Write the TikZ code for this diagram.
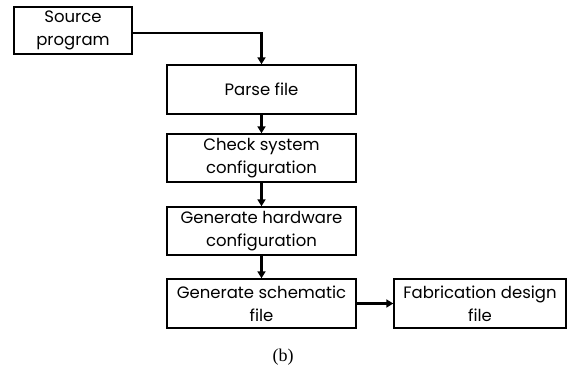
\documentclass[tikz,border=0pt]{standalone}
\usepackage{fontspec}
\setmainfont{Liberation Serif}
\newfontfamily\boxfont{Poppins}
\usetikzlibrary{arrows.meta}
\tikzset{
  flowbox/.style={draw=black, line width=1.4pt, align=center, inner sep=0pt,
    font=\boxfont\fontsize{16.5}{23}\selectfont},
  flowarrow/.style={line width=2.6pt, -{Triangle[length=7pt,width=8pt]}}
}
\begin{document}
\begin{tikzpicture}[x=1pt, y=-1pt]
  \useasboundingbox (0,0) rectangle (568,378);

  % boxes of the flow
  \node[flowbox, minimum width=118pt, minimum height=47pt] (source) at (73,30.5) {Source\\program};
  \node[flowbox, minimum width=189pt, minimum height=49pt] (parse) at (261.5,89.5) {Parse file};
  \node[flowbox, minimum width=189pt, minimum height=48pt] (check) at (261.5,158) {Check system\\configuration};
  \node[flowbox, minimum width=189pt, minimum height=48pt] (hardware) at (261.5,231) {Generate hardware\\configuration};
  \node[flowbox, minimum width=189pt, minimum height=49pt] (schematic) at (261.5,303.5) {Generate schematic\\file};
  \node[flowbox, minimum width=172pt, minimum height=49pt] (fabrication) at (480,303.5) {Fabrication design\\file};

  % caption
  \node[font=\fontsize{18}{20}\selectfont] (caption) at (283,357) {(b)};

  % connectors
  \draw[flowarrow] (source.east |- 0,33) -| (parse.north);
  \draw[flowarrow] (parse) -- (check);
  \draw[flowarrow] (check) -- (hardware);
  \draw[flowarrow] (hardware) -- (schematic);
  \draw[flowarrow] (schematic) -- (fabrication);
\end{tikzpicture}
\end{document}
